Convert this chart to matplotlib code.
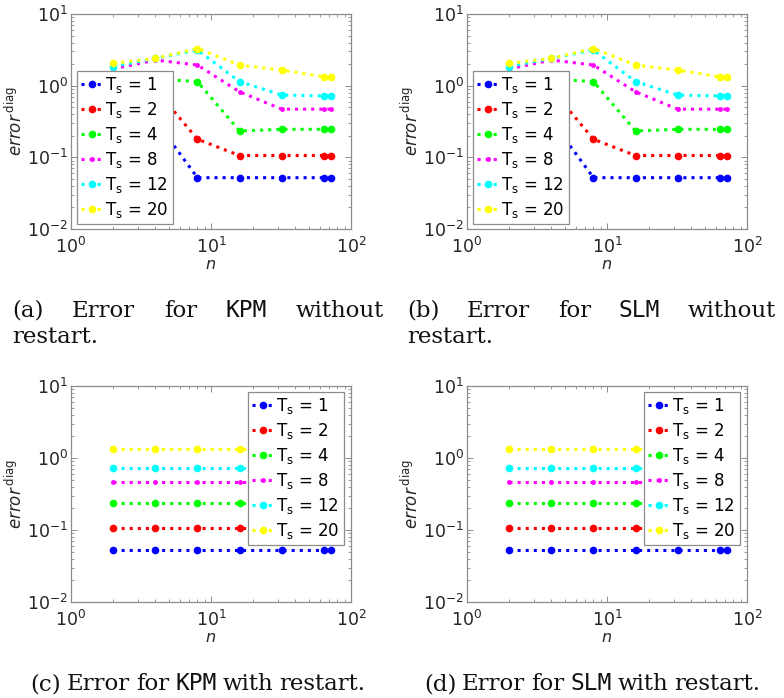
import matplotlib
matplotlib.use("Agg")
import matplotlib.pyplot as plt
from matplotlib.ticker import LogLocator, NullFormatter

# ---------------- data ----------------
n_vals = [2, 4, 8, 16, 32, 64, 72]
ts_labels = ["1", "2", "4", "8", "12", "20"]
colors = ["#0000ff", "#ff0000", "#00ff00", "#ff00ff", "#00ffff", "#ffff00"]

# without restart (same for KPM and SLM)
err_ts1 = [0.75, 0.33, 0.052, 0.052, 0.052, 0.052, 0.052]
err_ts2 = [1.30, 0.90, 0.179, 0.106, 0.106, 0.106, 0.106]
err_ts4 = [1.40, 1.24, 1.14, 0.233, 0.246, 0.246, 0.246]
err_ts8 = [1.71, 2.28, 1.94, 0.82, 0.47, 0.47, 0.47]
err_ts12 = [1.85, 2.40, 3.14, 1.14, 0.74, 0.72, 0.72]
err_ts20 = [2.05, 2.40, 3.30, 1.94, 1.65, 1.33, 1.33]
no_restart = [err_ts1, err_ts2, err_ts4, err_ts8, err_ts12, err_ts20]

# with restart (constant in n)
restart_levels = [0.052, 0.105, 0.24, 0.46, 0.72, 1.33]
with_restart = [[v] * len(n_vals) for v in restart_levels]

W, H = 784, 698
fig = plt.figure(figsize=(W / 100, H / 100), dpi=100)

def px_axes(l, t, r, b):
    return fig.add_axes([l / W, 1 - b / H, (r - l) / W, (b - t) / H])

def style_axes(ax):
    ax.set_xscale("log")
    ax.set_yscale("log")
    ax.set_xlim(1, 100)
    ax.set_ylim(1e-2, 10)
    for s in ax.spines.values():
        s.set_color("#8c8c8c")
        s.set_linewidth(0.9)
    ax.tick_params(which="both", direction="in", top=True, right=True,
                   colors="#8c8c8c", labelcolor="#262626", labelsize=12.5)
    ax.tick_params(which="major", length=4, width=0.7)
    ax.tick_params(which="minor", length=2, width=0.6)
    ax.tick_params(axis="x", which="major", pad=6)
    ax.tick_params(axis="y", which="major", pad=2)
    ax.xaxis.set_minor_locator(LogLocator(base=10, subs=range(2, 10)))
    ax.yaxis.set_minor_locator(LogLocator(base=10, subs=range(2, 10)))
    ax.xaxis.set_minor_formatter(NullFormatter())
    ax.yaxis.set_minor_formatter(NullFormatter())
    ax.set_xlabel(r"$n$", fontsize=11.5, color="#262626", labelpad=0)
    ax.set_ylabel(r"$\mathit{error}^{\,\mathrm{diag}}$", fontsize=12,
                  color="#262626", labelpad=1)

def draw(ax, series, legend_anchor, legend_loc):
    handles = []
    for vals, c, lab in zip(series, colors, ts_labels):
        ms = 2.5 if c == "#ff00ff" else 4.5
        h, = ax.plot(n_vals, vals, linestyle=":", color=c, linewidth=2.2,
                     marker="o", markersize=ms, markeredgecolor=c,
                     markerfacecolor=c, label=r"T$_\mathregular{s}$ = " + lab)
        handles.append(h)
    leg = ax.legend(handles=handles, loc=legend_loc,
                    bbox_to_anchor=(legend_anchor[0] / W, 1 - legend_anchor[1] / H),
                    bbox_transform=fig.transFigure,
                    fontsize=12, handlelength=1.25, handletextpad=0.2,
                    labelspacing=0.3, borderpad=0.25, borderaxespad=0,
                    frameon=True, fancybox=False, framealpha=1,
                    edgecolor="#8c8c8c", numpoints=1)
    leg.get_frame().set_linewidth(0.9)

ax_a = px_axes(71, 14, 351, 229)
ax_b = px_axes(467, 14, 747, 229)
ax_c = px_axes(71, 386, 351, 602)
ax_d = px_axes(467, 386, 747, 602)
for ax in (ax_a, ax_b, ax_c, ax_d):
    style_axes(ax)

draw(ax_a, no_restart, (77, 71), "upper left")
draw(ax_b, no_restart, (473, 71), "upper left")
draw(ax_c, with_restart, (344, 392), "upper right")
draw(ax_d, with_restart, (740, 392), "upper right")

# ---------------- captions ----------------
SERIF = "DejaVu Serif"
MONO = "DejaVu Sans Mono"
CAP_FS = 16.5

renderer = fig.canvas.get_renderer()

def make_words(words):
    objs = []
    for w, mono in words:
        t = fig.text(0, 0, w, fontsize=CAP_FS, family=MONO if mono else SERIF,
                     color="#111111", va="baseline", ha="left")
        objs.append(t)
    return objs

def width_px(t):
    return t.get_window_extent(renderer).width

def justified(words, x0, x1, y):
    objs = make_words(words)
    widths = [width_px(o) for o in objs]
    gap = (x1 - x0 - sum(widths)) / (len(objs) - 1)
    x = x0
    for o, w in zip(objs, widths):
        o.set_position((x / W, 1 - y / H))
        x += w + gap

def natural(words, cx, y, space=6.0):
    objs = make_words(words)
    widths = [width_px(o) for o in objs]
    total = sum(widths) + space * (len(objs) - 1)
    x = cx - total / 2
    for o, w in zip(objs, widths):
        o.set_position((x / W, 1 - y / H))
        x += w + space

justified([("(a)", False), ("Error", False), ("for", False), ("KPM", True),
           ("without", False)], 12, 384, 317)
fig.text(12 / W, 1 - 343 / H, "restart.", fontsize=CAP_FS, family=SERIF,
         color="#111111", va="baseline", ha="left")
justified([("(b)", False), ("Error", False), ("for", False), ("SLM", True),
           ("without", False)], 407, 776, 317)
fig.text(407 / W, 1 - 343 / H, "restart.", fontsize=CAP_FS, family=SERIF,
         color="#111111", va="baseline", ha="left")

natural([("(c)", False), ("Error", False), ("for", False), ("KPM", True),
         ("with", False), ("restart.", False)], 198, 690)
natural([("(d)", False), ("Error", False), ("for", False), ("SLM", True),
         ("with", False), ("restart.", False)], 592, 690)

fig.savefig("out.png", dpi=100)
